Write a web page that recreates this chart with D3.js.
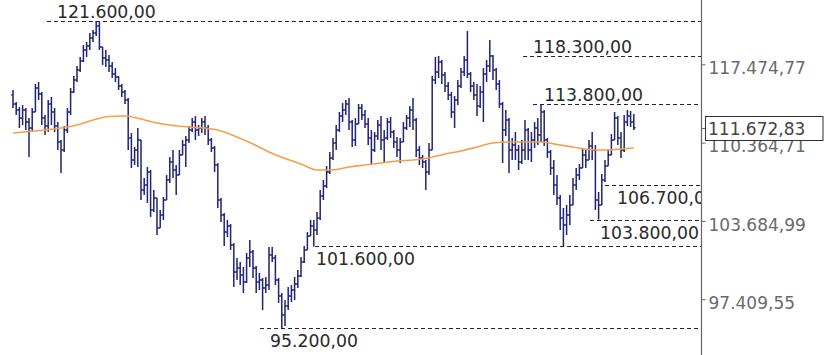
<!DOCTYPE html>
<html>
<head>
<meta charset="utf-8">
<script src="https://d3js.org/d3.v7.min.js"></script>
<style>
    body { margin: 0; background: #fff; }
    svg text { font-family: "DejaVu Sans", Verdana, sans-serif; }
</style>
</head>
<body>
<div id="chart"></div>
<script>
// prices in thousands (121.6 = 121.600,00)
var opens = [114.63,113.81,113.27,112.55,113.27,112.19,111.65,113.09,115.27,114.72,112.55,111.83,113.81,113.09,111.83,110.42,109.71,111.48,113.09,114.90,
116.01,116.94,117.78,118.82,119.20,119.96,120.44,121.11,119.10,118.06,117.87,117.31,116.56,116.29,115.46,114.90,114.17,110.77,108.84,109.71,
110.59,106.27,106.70,107.81,104.59,105.59,103.10,104.17,105.42,107.12,108.67,107.98,107.55,109.28,110.15,110.59,111.48,112.19,111.48,111.65,
112.19,111.65,110.59,109.89,108.41,105.42,104.17,102.77,103.26,101.71,99.55,99.87,99.31,98.76,100.66,101.15,99.87,98.76,98.91,98.28,
98.52,100.90,100.66,98.91,97.66,96.19,96.89,97.66,98.13,98.60,99.23,100.34,101.31,102.44,103.26,102.93,103.92,105.76,106.61,107.81,
109.02,110.33,111.48,112.73,113.27,113.81,112.19,110.59,112.01,113.45,112.82,112.01,110.77,109.71,110.95,111.92,110.59,110.77,112.19,111.30,
110.42,109.71,110.42,111.65,112.55,113.27,112.37,109.71,109.02,108.67,107.81,109.71,116.01,116.75,117.69,116.47,115.46,114.63,113.09,114.17,
115.46,116.75,117.87,116.56,115.46,114.63,113.63,114.90,116.56,117.31,118.25,116.94,115.64,113.81,111.48,112.37,109.71,110.15,109.71,108.67,
109.71,111.48,109.71,110.59,111.65,111.03,113.09,110.59,109.54,108.15,106.70,105.59,103.92,103.35,104.17,105.01,106.70,107.55,108.15,109.28,
108.84,110.06,109.71,105.42,105.01,107.12,108.32,109.28,110.59,112.55,110.77,109.71,112.19,112.73,112.19];
var highs = [115.09,113.99,113.54,113.72,113.45,112.55,113.45,115.64,115.82,114.90,112.82,114.17,114.45,113.45,112.19,110.59,111.83,113.45,115.27,116.38,
117.31,118.16,119.29,119.58,120.44,120.72,121.60,121.50,119.10,118.82,118.34,117.69,117.12,116.38,115.64,115.09,114.36,111.21,109.98,111.65,
110.59,107.29,108.24,107.98,106.27,105.59,104.59,105.68,107.55,109.10,109.71,108.41,109.71,110.59,110.95,111.83,112.55,112.73,111.92,112.55,
112.73,111.92,110.77,110.06,108.58,105.59,104.34,103.76,103.43,101.87,100.66,100.34,99.94,101.07,102.12,101.31,100.02,99.47,99.07,99.15,
101.55,101.55,100.90,99.07,97.89,97.35,98.36,98.52,99.15,99.71,100.74,101.63,102.77,103.76,103.76,104.42,106.27,107.12,108.32,109.54,
110.77,111.92,113.09,113.90,114.17,114.36,112.37,112.55,113.81,113.81,113.27,112.55,111.48,111.30,112.37,112.73,111.48,112.55,112.64,111.48,
110.86,110.77,112.19,112.82,113.63,114.36,112.55,110.06,109.28,108.84,110.33,116.38,118.16,118.25,117.87,116.75,115.82,114.90,114.54,116.01,
117.12,118.25,120.63,116.75,115.82,115.64,115.46,117.12,117.87,119.77,118.34,117.12,116.01,113.99,113.27,112.55,110.77,111.30,110.15,110.59,
112.37,111.65,111.30,112.19,112.55,113.80,113.27,110.77,109.71,108.84,107.55,105.85,104.76,105.01,105.85,107.29,108.15,108.50,109.89,109.71,
110.59,111.30,110.15,106.10,107.64,108.84,109.71,111.12,113.09,112.73,111.30,112.82,113.27,113.18,112.91];
var lows = [113.45,112.82,111.65,111.92,111.48,109.10,111.30,113.09,114.17,111.92,111.03,111.30,111.92,111.30,109.71,107.72,109.54,111.21,112.82,114.81,
115.82,116.75,117.69,118.16,118.82,119.58,120.15,118.82,117.40,117.22,116.75,116.19,115.82,115.09,114.45,113.81,109.71,108.15,108.41,108.24,
105.42,105.85,105.17,104.01,104.42,102.53,103.10,103.76,105.42,106.87,107.29,105.85,107.55,109.28,108.24,110.33,111.30,110.59,110.95,111.21,
111.03,110.15,109.54,107.81,104.76,103.59,101.63,102.36,101.31,98.36,98.91,98.52,97.89,98.68,99.94,99.07,97.89,98.13,96.58,97.89,
98.13,100.34,98.52,97.12,95.20,95.35,96.58,97.19,97.35,98.28,99.15,100.26,101.31,102.44,101.60,102.53,103.76,105.42,106.44,107.64,
108.84,109.71,111.30,112.19,112.82,111.48,109.98,110.06,112.01,112.37,111.65,110.15,108.41,109.54,110.59,109.71,108.67,110.59,110.77,109.89,
109.10,108.58,110.42,111.48,111.74,111.48,109.10,108.41,108.15,106.27,107.55,109.71,115.64,116.19,115.64,114.90,114.17,112.55,111.65,113.72,
115.27,116.38,116.19,114.90,114.17,112.73,113.45,112.19,115.82,116.75,116.01,115.09,113.45,108.58,110.95,107.72,108.84,108.84,107.98,108.50,
108.84,108.84,108.67,109.89,110.15,110.42,110.06,109.02,107.55,105.85,105.01,102.93,101.63,102.53,103.35,105.01,106.27,107.12,108.15,108.15,
108.84,108.84,104.59,103.80,105.01,106.95,108.32,109.28,110.59,110.15,109.02,109.54,111.83,111.74,111.48];
var closes = [113.81,113.27,112.55,113.27,112.19,111.65,113.09,115.27,114.72,112.55,111.83,113.81,113.09,111.83,110.42,109.71,111.48,113.09,114.90,116.01,
116.94,117.78,118.82,119.20,119.96,120.44,121.11,119.10,118.06,117.87,117.31,116.56,116.29,115.46,114.90,114.17,110.77,108.84,109.71,110.59,
106.27,106.70,107.81,104.59,105.59,103.10,104.17,105.42,107.12,108.67,107.98,107.55,109.28,110.15,110.59,111.48,112.19,111.48,111.65,112.19,
111.65,110.59,109.89,108.41,105.42,104.17,102.77,103.26,101.71,99.55,99.87,99.31,98.76,100.66,101.15,99.87,98.76,98.91,98.28,98.52,
100.90,100.66,98.91,97.66,96.19,96.89,97.66,98.13,98.60,99.23,100.34,101.31,102.44,103.26,102.93,103.92,105.76,106.61,107.81,109.02,
110.33,111.48,112.73,113.27,113.81,112.19,110.59,112.01,113.45,112.82,112.01,110.77,109.71,110.95,111.92,110.59,110.77,112.19,111.30,110.42,
109.71,110.42,111.65,112.55,113.27,112.37,109.71,109.02,108.67,107.81,109.71,116.01,116.75,117.69,116.47,115.46,114.63,113.09,114.17,115.46,
116.75,117.87,116.56,115.46,114.63,113.63,114.90,116.56,117.31,118.25,116.94,115.64,113.81,111.48,112.37,109.71,110.15,109.71,108.67,109.71,
111.48,109.71,110.59,111.65,111.03,113.09,110.59,109.54,108.15,106.70,105.59,103.92,103.35,104.17,105.01,106.70,107.55,108.15,109.28,108.84,
110.06,109.71,105.42,105.01,107.12,108.32,109.28,110.59,112.55,110.77,109.71,112.19,112.73,112.19,111.67283];

// moving average, sampled at these bar numbers
var maIdx = [0,5,10,15,20,25,30,35,40,45,50,55,60,65,70,75,80,85,90,95,100,105,110,115,120,125,130,135,140,145,150,155,160,165,170,175,180,185,190,194];
var maVal = [111.21,111.34,111.48,111.65,111.92,112.37,112.68,112.73,112.46,112.10,111.88,111.74,111.65,111.39,110.86,110.24,109.54,108.97,108.50,107.98,
107.98,108.24,108.41,108.58,108.76,108.84,109.02,109.37,109.63,109.98,110.33,110.42,110.42,110.42,110.20,109.98,109.76,109.71,109.80,109.89];

// marked levels and the bar where each dashed line starts
var levelVals = [121.6, 118.3, 113.8, 106.7, 103.8, 101.6, 95.2];
var levelFrom = [10.6, 159.4, 162.5, 185, 180.3, 94.4, 77.2];
var levelSide = ["above", "above", "above", "below", "below", "below", "below"];

// right scale
var tickVals = [117.47477, 110.36471, 103.68499, 97.40955];
var tickLabels = ["117.474,77", "110.364,71", "103.684,99", "97.409,55"];
var lastLabel = "111.672,83";

var W = 834, H = 355, axisX = 701;
var labelShift = [10, 10, 11, 12, 10, 1, 10];

var loc = d3.formatLocale({decimal: ",", thousands: ".", grouping: [3], currency: ["", ""]});
function fmt(v) {
    return loc.format(",.2f")(v * 1000);
}

var svg = d3.select("#chart").append("svg")
    .attr("width", W).attr("height", H);

svg.append("defs").append("clipPath").attr("id", "plotclip")
    .append("rect").attr("x", 0).attr("y", 0).attr("width", axisX).attr("height", H);

var x = d3.scaleLinear().domain([0, closes.length - 1]).range([13, 633.8]);
var y = d3.scaleLog().domain([95.2, 121.6]).range([328, 21]);

var plot = svg.append("g").attr("clip-path", "url(#plotclip)");

// dashed levels
var lv = plot.append("g");
levelVals.forEach(function (v, i) {
    var yy = Math.round(y(v)) + 0.5;
    var x0 = x(levelFrom[i]);
    lv.append("line")
        .attr("x1", x0).attr("x2", axisX)
        .attr("y1", yy).attr("y2", yy)
        .attr("stroke", "#222").attr("stroke-width", 1)
        .attr("stroke-dasharray", "4,3");
    lv.append("text")
        .attr("x", x0 + labelShift[i])
        .attr("y", levelSide[i] == "above" ? yy - 4 : yy + 18.5)
        .attr("fill", "#2a2a2a")
        .style("font-size", "17.3px")
        .text(fmt(v));
});

// ohlc bars
var bars = plot.append("g")
    .attr("stroke", "#1f2572").attr("stroke-width", 1.5).attr("fill", "none");
closes.forEach(function (c, i) {
    var xi = x(i);
    bars.append("path").attr("d",
        "M" + xi + "," + y(highs[i]) + "V" + y(lows[i]) +
        "M" + (xi - 1.7) + "," + y(opens[i]) + "H" + xi +
        "M" + xi + "," + y(c) + "H" + (xi + 1.7));
});

// moving average
plot.append("path")
    .datum(maIdx.map(function (d, i) { return [d, maVal[i]]; }))
    .attr("fill", "none").attr("stroke", "#f4a04a").attr("stroke-width", 1.6)
    .attr("d", d3.line()
        .x(function (d) { return x(d[0]); })
        .y(function (d) { return y(d[1]); })
        .curve(d3.curveMonotoneX));

// right axis
svg.append("line")
    .attr("x1", axisX + 0.5).attr("x2", axisX + 0.5)
    .attr("y1", 0).attr("y2", H)
    .attr("stroke", "#666").attr("stroke-width", 1.2);

var ax = svg.append("g").attr("transform", "translate(" + (axisX + 0.5) + ",0)")
    .call(d3.axisRight(y).tickValues(tickVals)
        .tickFormat(function (d, i) { return tickLabels[i]; })
        .tickSize(4).tickPadding(3));
ax.select(".domain").remove();
ax.selectAll("line").attr("stroke", "#666");
ax.selectAll("text")
    .attr("fill", "#6a6a6a")
    .attr("dy", "0.72em").attr("y", -3)
    .style("font-size", "17px")
    .style("font-family", "'DejaVu Sans', Verdana, sans-serif");

// last price box
var lastY = Math.round(y(closes[closes.length - 1])) + 0.5;
svg.append("line")
    .attr("x1", axisX).attr("x2", axisX + 5)
    .attr("y1", lastY).attr("y2", lastY).attr("stroke", "#666");
svg.append("rect")
    .attr("x", 705.5).attr("y", lastY - 12)
    .attr("width", 117.5).attr("height", 24)
    .attr("fill", "#fff").attr("stroke", "#333").attr("stroke-width", 1);
svg.append("text")
    .attr("x", 708).attr("y", lastY + 6.5)
    .attr("fill", "#444")
    .style("font-size", "17px")
    .text(lastLabel);
</script>
</body>
</html>
